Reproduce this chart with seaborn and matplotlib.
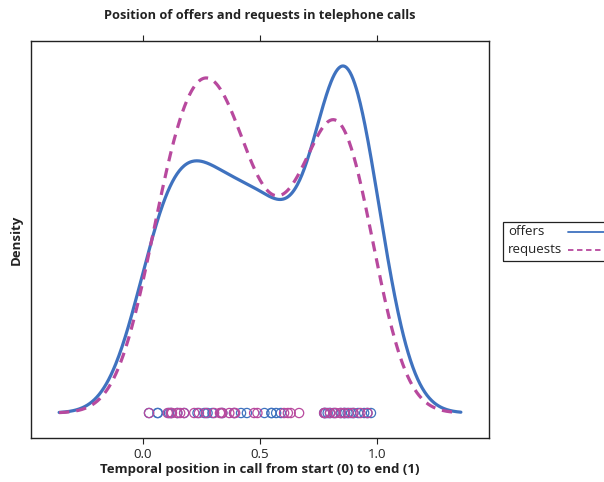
import numpy as np
import pandas as pd
import seaborn as sns
import matplotlib.pyplot as plt
from matplotlib.lines import Line2D
from matplotlib.patches import Rectangle

# positions of speech acts within the call (0 = start, 1 = end)
OFFERS = [0.027, 0.063, 0.065, 0.112, 0.120, 0.148, 0.177, 0.234, 0.263, 0.277,
          0.298, 0.340, 0.390, 0.420, 0.445, 0.520, 0.550, 0.550, 0.570, 0.590,
          0.775, 0.780, 0.790, 0.800, 0.815, 0.846, 0.860, 0.865, 0.875, 0.890,
          0.900, 0.920, 0.946, 0.960, 0.975]
REQUESTS = [0.027, 0.107, 0.120, 0.125, 0.148, 0.160, 0.177, 0.220, 0.240, 0.270,
            0.305, 0.330, 0.335, 0.340, 0.370, 0.390, 0.395, 0.476, 0.490, 0.604,
            0.620, 0.632, 0.668, 0.775, 0.780, 0.800, 0.820, 0.825, 0.845, 0.860,
            0.880, 0.900, 0.930, 0.960]

GROUPS = ["offers", "requests"]
COLORS = {"offers": "#3f72bf", "requests": "#b8499e"}
STYLES = {"offers": "-", "requests": (0, (3.2, 2.2))}
BANDWIDTH = 0.128  # kernel sd, judged from how far the curves run past the data
X_TICKS = [0.0, 0.5, 1.0]
X_TICK_LABELS = ["0.0", "0.5", "1.0"]

TITLE = "Position of offers and requests in telephone calls"
XLABEL = "Temporal position in call from start (0) to end (1)"
YLABEL = "Density"
INK = "#222222"


def bw_factor(values):
    # seaborn/scipy scale the bandwidth by the sample sd
    return BANDWIDTH / np.std(values, ddof=1)


def build_frame():
    return pd.concat([
        pd.DataFrame({"position": OFFERS, "kind": "offers"}),
        pd.DataFrame({"position": REQUESTS, "kind": "requests"}),
    ], ignore_index=True)


def draw_key(fig):
    # lattice style key: label first, line sample after, box runs off the page
    W, H = 604, 482
    fig.add_artist(Rectangle((503 / W, 1 - 261 / H), 130 / W, 39 / H, transform=fig.transFigure,
                             fill=False, edgecolor=INK, linewidth=0.9, clip_on=False))
    rows = [231, 249]
    for kind, y in zip(GROUPS, rows):
        fig.text(508 / W, 1 - y / H, kind, fontsize=9.5, color=INK, ha="left", va="center")
        ls = "-" if kind == "offers" else (0, (3, 2))
        fig.add_artist(Line2D([568 / W, 615 / W], [1 - (y + 0.5) / H] * 2, transform=fig.transFigure,
                              color=COLORS[kind], linestyle=ls, linewidth=1.3))


def main():
    sns.set_theme(style="white")
    plt.rcParams["font.family"] = ["Open Sans", "DejaVu Sans"]

    df = build_frame()
    fig = plt.figure(figsize=(6.04, 4.82), dpi=100)
    ax = fig.add_axes([31 / 604, 44 / 482, 458 / 604, 397 / 482])

    for kind in GROUPS:
        sub = df[df["kind"] == kind]
        sns.kdeplot(data=sub, x="position", bw_method=bw_factor(sub["position"]),
                    cut=3, gridsize=512, color=COLORS[kind], linestyle=STYLES[kind],
                    linewidth=2.3, ax=ax)

    curves = list(ax.lines)
    peak = max(line.get_ydata().max() for line in curves)
    xmin = min(line.get_xdata().min() for line in curves)
    xmax = max(line.get_xdata().max() for line in curves)

    for kind in GROUPS:
        sub = df[df["kind"] == kind]
        sns.scatterplot(x=sub["position"], y=np.zeros(len(sub)), marker="o", s=44,
                        facecolor="none", edgecolor=COLORS[kind], linewidth=0.9, ax=ax)

    # lattice pads both axis ranges by 7%
    pad = 0.07 * (xmax - xmin)
    ax.set_xlim(xmin - pad, xmax + pad)
    ax.set_ylim(-0.072 * peak, 1.072 * peak)

    ax.set_xticks(X_TICKS)
    ax.set_xticklabels(X_TICK_LABELS, fontsize=9.5, color=INK)
    ax.set_yticks([])
    ax.tick_params(axis="x", which="both", bottom=True, top=True, direction="out",
                   length=4.5, width=0.8, color=INK, pad=3)
    for spine in ax.spines.values():
        spine.set_visible(True)
        spine.set_color(INK)
        spine.set_linewidth(1.0)

    ax.set_xlabel(XLABEL, fontsize=9.5, fontweight="bold", color=INK, labelpad=1)
    ax.set_ylabel(YLABEL, fontsize=9.5, fontweight="bold", color=INK, labelpad=6)
    fig.suptitle(TITLE, x=260 / 604, y=1 - 15 / 482, va="center",
                 fontsize=9.2, fontweight="bold", color=INK)

    draw_key(fig)
    fig.savefig("out.png", dpi=100)


if __name__ == "__main__":
    main()
